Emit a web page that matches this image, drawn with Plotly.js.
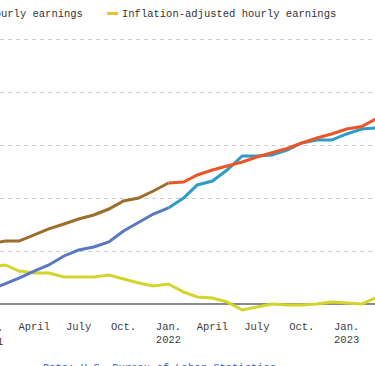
<!DOCTYPE html>
<html>
<head>
<meta charset="utf-8">
<script src="https://cdn.plot.ly/plotly-3.0.1.min.js"></script>
<style>
  html, body { margin: 0; padding: 0; background: #fff; overflow: hidden; }
  #chart { width: 375px; height: 366px; }
</style>
</head>
<body>
<div id="chart"></div>
<script>
// Monthly dates, Jan 2021 – Mar 2023
const months = [
  '2021-01-01','2021-02-01','2021-03-01','2021-04-01','2021-05-01','2021-06-01',
  '2021-07-01','2021-08-01','2021-09-01','2021-10-01','2021-11-01','2021-12-01',
  '2022-01-01','2022-02-01','2022-03-01','2022-04-01','2022-05-01','2022-06-01',
  '2022-07-01','2022-08-01','2022-09-01','2022-10-01','2022-11-01','2022-12-01',
  '2023-01-01','2023-02-01','2023-03-01'
];
// Cumulative % change
const hourlyEarnings = [5.66,5.94,5.94,6.51,7.08,7.55,8.02,8.40,8.96,9.72,10.0,10.66,
  11.42,11.51,12.17,12.64,13.02,13.40,13.87,14.25,14.67,15.19,15.66,16.04,16.51,16.75,17.45];
const consumerPrices = [1.32,1.89,2.45,3.11,3.68,4.53,5.09,5.38,5.85,6.89,7.74,8.49,
  9.06,10.0,11.23,11.60,12.64,13.96,13.96,14.06,14.53,15.19,15.47,15.47,16.04,16.51,16.60];
const realEarnings = [3.49,3.68,3.11,2.92,2.92,2.55,2.55,2.55,2.74,2.36,1.98,1.70,
  1.89,1.13,0.66,0.57,0.19,-0.57,-0.28,0.0,-0.09,-0.09,0.0,0.19,0.09,0.0,0.57];

const tickVals = ['2021-04-01','2021-07-01','2021-10-01','2022-01-01','2022-04-01',
  '2022-07-01','2022-10-01','2023-01-01','2023-04-01'];
const tickText = ['April','July','Oct.','Jan.<br>2022','April','July','Oct.','Jan.<br>2023','April'];
const firstTickText = 'Jan.<br>2021';
const gridVals = [0,5,10,15,20,25];

const split = 12; // Jan 2022
const mono = 'Liberation Mono, DejaVu Sans Mono, monospace';

function seg(x, y, color, name) {
  return {x: x, y: y, type: 'scatter', mode: 'lines', name: name, showlegend: false,
    line: {color: color, width: 3}, hoverinfo: 'skip'};
}

const traces = [
  seg(months, realEarnings, '#d3d52c', 'Inflation-adjusted hourly earnings'),
  seg(months.slice(0, split+1), consumerPrices.slice(0, split+1), '#5a78c2', 'Consumer prices'),
  seg(months.slice(split), consumerPrices.slice(split), '#2f9cc6', 'Consumer prices'),
  seg(months.slice(0, split+1), hourlyEarnings.slice(0, split+1), '#9c6e2a', 'Average hourly earnings'),
  seg(months.slice(split), hourlyEarnings.slice(split), '#ea5628', 'Average hourly earnings')
];

const legY = 1 + 16.5/283;
const layout = {
  width: 375, height: 366,
  margin: {l: 0, r: 0, t: 30, b: 53},
  paper_bgcolor: '#fff', plot_bgcolor: '#fff',
  showlegend: false,
  font: {family: mono, size: 10.5, color: '#444'},
  xaxis: {
    type: 'date', range: ['2021-01-21', '2023-02-28'],
    tickmode: 'array', tickvals: tickVals, ticktext: tickText,
    showgrid: false, zeroline: false, showline: false, ticks: '',
    ticklabelstandoff: 5,
    tickfont: {family: mono, size: 10.5, color: '#3c3c3c'}, fixedrange: true
  },
  yaxis: {
    range: [-0.849, 25.849], tickmode: 'array', tickvals: gridVals,
    showticklabels: false, showgrid: true, gridcolor: '#cfcfcf', gridwidth: 1,
    griddash: '4px,4px', zeroline: true, zerolinecolor: '#8a8a8a', zerolinewidth: 1.5,
    showline: false, ticks: '', fixedrange: true
  },
  shapes: [
    {type: 'line', xref: 'paper', yref: 'paper', x0: 107/375, x1: 118/375, y0: legY, y1: legY,
     line: {color: '#ecc22e', width: 3}}
  ],
  annotations: [
    {xref: 'paper', yref: 'paper', x: -9.8/375, y: 0, yanchor: 'top', xanchor: 'center', yshift: -8,
     text: firstTickText, showarrow: false, borderpad: 0,
     font: {family: mono, size: 10.5, color: '#3c3c3c'}},
    {xref: 'paper', yref: 'paper', x: 84/375, y: legY, xanchor: 'right', yanchor: 'middle',
     text: 'Average hourly earnings', showarrow: false, borderpad: 0,
     font: {family: mono, size: 10.5, color: '#333'}},
    {xref: 'paper', yref: 'paper', x: 121/375, y: legY, xanchor: 'left', yanchor: 'middle',
     text: 'Inflation-adjusted hourly earnings', showarrow: false, borderpad: 0,
     font: {family: mono, size: 10.5, color: '#333'}},
    {xref: 'paper', yref: 'paper', x: 42/375, y: (313-361)/283, xanchor: 'left', yanchor: 'top',
     text: 'Data: U.S. Bureau of Labor Statistics', showarrow: false, borderpad: 0,
     font: {family: mono, size: 10.5, color: '#3a5bbf'}}
  ]
};

Plotly.newPlot('chart', traces, layout, {displayModeBar: false, staticPlot: true});
</script>
</body>
</html>
